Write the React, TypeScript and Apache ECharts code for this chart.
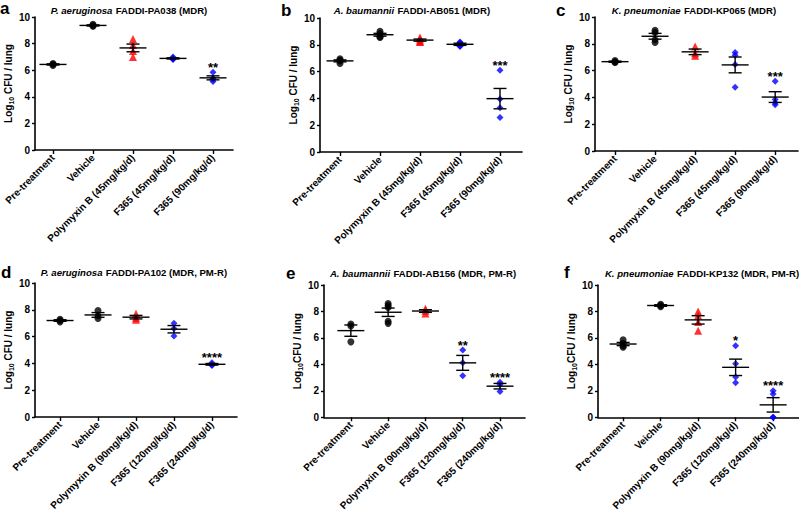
import React, { useEffect, useRef } from "react";
import * as echarts from "echarts";

// ---------- data ----------
const groupsTop = ["Pre-treatment", "Vehicle", "Polymyxin B (45mg/kg/d)", "F365 (45mg/kg/d)", "F365 (90mg/kg/d)"];
const groupsBottom = ["Pre-treatment", "Vehicle", "Polymyxin B (90mg/kg/d)", "F365 (120mg/kg/d)", "F365 (240mg/kg/d)"];
const groupsF = ["Pre-treatment", "Veichle", "Polymyxin B (90mg/kg/d)", "F365 (120mg/kg/d)", "F365 (240mg/kg/d)"];

const valuesA = [[6.35, 6.45, 6.5], [9.3, 9.35, 9.45], [8.35, 7.9, 7.45, 7.0], [7.0, 6.9, 6.85, 6.8], [5.85, 5.4, 5.3, 5.15]];
const valuesB = [[6.95, 6.8, 6.6, 6.85], [9.0, 8.85, 8.6, 8.55], [8.55, 8.4, 8.25, 8.2], [8.2, 8.15, 7.9, 7.9], [6.1, 3.95, 3.3, 2.58]];
const valuesC = [[6.75, 6.65, 6.6], [9.0, 8.85, 8.3, 8.1], [7.8, 7.3, 7.1], [7.35, 7.15, 6.45, 4.75], [5.2, 3.85, 3.6, 3.45]];
const valuesD = [[7.3, 7.2, 7.1], [7.95, 7.55, 7.35], [7.7, 7.4, 7.25], [7.0, 6.6, 6.05], [4.05, 3.9, 3.85]];
const valuesE = [[7.05, 6.9, 5.7], [8.6, 8.45, 8.3, 7.25, 7.1], [8.2, 8.05, 7.85], [5.08, 4.13, 3.13], [2.65, 2.45, 1.95]];
const valuesF = [[5.85, 5.6, 5.4, 5.3], [8.55, 8.45, 8.35], [8.0, 7.7, 7.2, 6.55], [5.4, 4.05, 3.05, 2.6], [2.0, 1.75, 0, 0]];

const starsA = ["", "", "", "", "**"];
const starsB = ["", "", "", "", "***"];
const starsC = ["", "", "", "", "***"];
const starsD = ["", "", "", "", "****"];
const starsE = ["", "", "", "**", "****"];
const starsF = ["", "", "", "*", "****"];

const speciesNames = ["P. aeruginosa", "A. baumannii", "K. pneumoniae", "P. aeruginosa", "A. baumannii", "K. pneumoniae"];
const strainNames = ["FADDI-PA038 (MDR)", "FADDI-AB051 (MDR)", "FADDI-KP065 (MDR)", "FADDI-PA102 (MDR, PM-R)", "FADDI-AB156 (MDR, PM-R)", "FADDI-KP132 (MDR, PM-R)"];
const panelLetters = ["a", "b", "c", "d", "e", "f"];
const yTitleGap = [" ", " ", " ", " ", "", ""];

const yTicks = [0, 2, 4, 6, 8, 10];

// ---------- styles ----------
const groupSymbols = ["circle", "circle", "triangle", "diamond", "diamond"];
const groupColors = ["#000000", "#000000", "#ff0000", "#0000ff", "#0000ff"];
const groupSizes = [7, 7, 8, 7, 7];
const FONT = "Liberation Sans, Arial, sans-serif";

// layout per panel: [axisLeft, axisTop, axisWidth, axisHeight, xMin, xMax]
const layouts = [
  [35, 17, 198, 133, -0.45, 4.5],
  [320, 18, 202, 134, -0.5, 4.55],
  [595, 17, 203, 134, -0.5, 4.57],
  [35, 283, 202, 134, -0.66, 4.66],
  [324, 285, 201, 133, -0.72, 4.67],
  [598, 285, 201, 133, -0.67, 4.69],
];
const titlePos = [[129, 10], [412, 10], [694, 10], [134, 272], [423, 273], [702, 273]];
const letterPos = [[0, 8], [281, 10], [556, 10], [1, 272], [286, 273], [564, 272]];

const panels = [
  { groups: groupsTop, values: valuesA, stars: starsA },
  { groups: groupsTop, values: valuesB, stars: starsB },
  { groups: groupsTop, values: valuesC, stars: starsC },
  { groups: groupsBottom, values: valuesD, stars: starsD },
  { groups: groupsBottom, values: valuesE, stars: starsE },
  { groups: groupsF, values: valuesF, stars: starsF },
];

function meanSem(arr: number[]) {
  const n = arr.length;
  const m = arr.reduce((a, b) => a + b, 0) / n;
  const v = arr.reduce((a, b) => a + (b - m) * (b - m), 0) / (n - 1);
  return [m, Math.sqrt(v) / Math.sqrt(n)];
}

function buildOption() {
  const grid: any[] = [];
  const xAxis: any[] = [];
  const yAxis: any[] = [];
  const series: any[] = [];
  const graphic: any[] = [];

  panels.forEach((p, k) => {
    const [l, t, w, h, xmin, xmax] = layouts[k];
    grid.push({ left: l, top: t, width: w, height: h, containLabel: false });
    const idx = [0, 1, 2, 3, 4];
    xAxis.push({
      type: "value",
      gridIndex: k,
      min: xmin,
      max: xmax,
      splitLine: { show: false },
      axisLine: { show: true, onZero: false, lineStyle: { color: "#000", width: 1.6 } },
      axisTick: { show: true, customValues: idx, length: 4, lineStyle: { color: "#000", width: 1.4 } },
      axisLabel: {
        customValues: idx,
        rotate: 45,
        margin: 6,
        color: "#000",
        fontFamily: FONT,
        fontWeight: "bold",
        fontSize: 10,
        formatter: (v: number) => p.groups[Math.round(v)] ?? "",
      },
    });
    yAxis.push({
      type: "value",
      gridIndex: k,
      min: 0,
      max: 10,
      interval: 2,
      splitLine: { show: false },
      axisLine: { show: true, onZero: false, lineStyle: { color: "#000", width: 1.6 } },
      axisTick: { show: true, length: 3, lineStyle: { color: "#000", width: 1.4 } },
      axisLabel: {
        margin: 5,
        color: "#000",
        fontFamily: FONT,
        fontWeight: "bold",
        fontSize: 10,
        formatter: (v: number) => (yTicks.includes(v) ? String(v) : ""),
      },
      name: `{a|Log}{s|10}{a|${yTitleGap[k]}CFU / lung}`,
      nameLocation: "middle",
      nameRotate: 90,
      nameGap: 19,
      nameTextStyle: {
        rich: {
          a: { fontFamily: FONT, fontWeight: "bold", fontSize: 10, color: "#000", lineHeight: 12 },
          s: { fontFamily: FONT, fontWeight: "bold", fontSize: 7, color: "#000", lineHeight: 6, verticalAlign: "bottom" },
        },
      },
    });

    // points
    const pts: any[] = [];
    p.values.forEach((vals, i) => {
      vals.forEach((v) => {
        pts.push({
          value: [i, v],
          symbol: groupSymbols[i],
          symbolSize: groupSizes[i],
          itemStyle: { color: groupColors[i] },
        });
      });
    });
    series.push({
      type: "scatter",
      xAxisIndex: k,
      yAxisIndex: k,
      data: pts,
      z: 2,
      silent: true,
    });

    // mean +/- SEM
    const stats = p.values.map((vals, i) => {
      const [m, s] = meanSem(vals);
      return [i, m, s];
    });
    series.push({
      type: "custom",
      xAxisIndex: k,
      yAxisIndex: k,
      data: stats,
      z: 3,
      silent: true,
      renderItem: (params: any, api: any) => {
        const x = api.value(0);
        const m = api.value(1);
        const s = api.value(2);
        const pm = api.coord([x, m]);
        const ph = api.coord([x, m + s]);
        const pl = api.coord([x, m - s]);
        const st = { stroke: "#000", lineWidth: 1.4 };
        return {
          type: "group",
          children: [
            { type: "line", shape: { x1: pm[0] - 13.5, y1: pm[1], x2: pm[0] + 13.5, y2: pm[1] }, style: st },
            { type: "line", shape: { x1: ph[0], y1: ph[1], x2: pl[0], y2: pl[1] }, style: st },
            { type: "line", shape: { x1: ph[0] - 6.5, y1: ph[1], x2: ph[0] + 6.5, y2: ph[1] }, style: st },
            { type: "line", shape: { x1: pl[0] - 6.5, y1: pl[1], x2: pl[0] + 6.5, y2: pl[1] }, style: st },
          ],
        };
      },
    });

    // significance stars
    const starData = p.values.map((vals, i) => [i, Math.max(...vals)]);
    series.push({
      type: "custom",
      xAxisIndex: k,
      yAxisIndex: k,
      data: starData,
      z: 4,
      silent: true,
      renderItem: (params: any, api: any) => {
        const i = params.dataIndex;
        const txt = p.stars[i];
        if (!txt) return null;
        const c = api.coord([api.value(0), api.value(1)]);
        return {
          type: "text",
          style: {
            text: txt,
            x: c[0],
            y: c[1] - 5,
            align: "center",
            verticalAlign: "middle",
            fontFamily: FONT,
            fontWeight: "bold",
            fontSize: 13,
            fill: "#000",
          },
        };
      },
    });

    // title
    graphic.push({
      type: "text",
      x: titlePos[k][0],
      y: titlePos[k][1],
      style: {
        text: `{i|${speciesNames[k]}} {b|${strainNames[k]}}`,
        align: "center",
        verticalAlign: "middle",
        rich: {
          i: { fontFamily: FONT, fontWeight: "bold", fontStyle: "italic", fontSize: 9.6, fill: "#000" },
          b: { fontFamily: FONT, fontWeight: "bold", fontSize: 9.6, fill: "#000" },
        },
      },
    });
    // panel letter
    graphic.push({
      type: "text",
      x: letterPos[k][0],
      y: letterPos[k][1],
      style: {
        text: panelLetters[k],
        align: "left",
        verticalAlign: "middle",
        fontFamily: FONT,
        fontWeight: "bold",
        fontSize: 17,
        fill: "#000",
      },
    });
  });

  return {
    animation: false,
    backgroundColor: "#ffffff",
    grid,
    xAxis,
    yAxis,
    series,
    graphic,
  };
}

export default function App() {
  const ref = useRef<HTMLDivElement>(null);
  useEffect(() => {
    if (!ref.current) return;
    const chart = echarts.init(ref.current, undefined, { renderer: "svg" });
    chart.setOption(buildOption() as any);
    return () => chart.dispose();
  }, []);
  return (
    <div
      ref={ref}
      style={{ position: "fixed", left: 0, top: 0, width: 799, height: 513, background: "#fff" }}
    />
  );
}
